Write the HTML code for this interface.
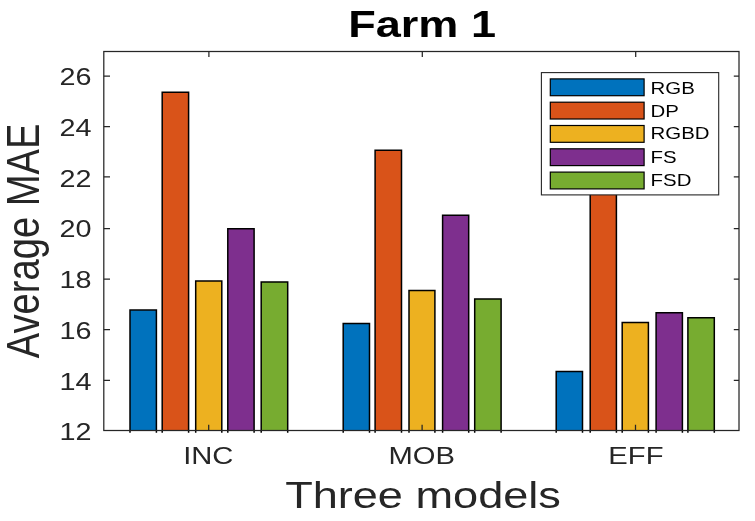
<!DOCTYPE html><html><head><meta charset="utf-8"><title>Farm 1</title>
<style>html,body{margin:0;padding:0;background:#fff}svg{display:block}text{font-family:"Liberation Sans",Arial,Helvetica,sans-serif}</style></head><body>
<svg width="755" height="521" viewBox="0 0 755 521">
<rect width="755" height="521" fill="#fff"/>
<rect x="130.00" y="310.10" width="26.40" height="120.40" fill="#0072BD"/>
<path d="M130.00 432.70V310.10H156.40V432.70" fill="none" stroke="#000" stroke-width="1.5"/>
<rect x="162.20" y="92.20" width="26.40" height="338.30" fill="#D95319"/>
<path d="M162.20 432.70V92.20H188.60V432.70" fill="none" stroke="#000" stroke-width="1.5"/>
<rect x="195.70" y="280.90" width="26.10" height="149.60" fill="#EDB120"/>
<path d="M195.70 432.70V280.90H221.80V432.70" fill="none" stroke="#000" stroke-width="1.5"/>
<rect x="227.80" y="228.70" width="26.30" height="201.80" fill="#7E2F8E"/>
<path d="M227.80 432.70V228.70H254.10V432.70" fill="none" stroke="#000" stroke-width="1.5"/>
<rect x="261.20" y="281.90" width="26.50" height="148.60" fill="#77AC30"/>
<path d="M261.20 432.70V281.90H287.70V432.70" fill="none" stroke="#000" stroke-width="1.5"/>
<rect x="343.20" y="323.60" width="26.30" height="106.90" fill="#0072BD"/>
<path d="M343.20 432.70V323.60H369.50V432.70" fill="none" stroke="#000" stroke-width="1.5"/>
<rect x="375.10" y="150.20" width="26.40" height="280.30" fill="#D95319"/>
<path d="M375.10 432.70V150.20H401.50V432.70" fill="none" stroke="#000" stroke-width="1.5"/>
<rect x="409.00" y="290.60" width="25.90" height="139.90" fill="#EDB120"/>
<path d="M409.00 432.70V290.60H434.90V432.70" fill="none" stroke="#000" stroke-width="1.5"/>
<rect x="442.60" y="215.30" width="26.10" height="215.20" fill="#7E2F8E"/>
<path d="M442.60 432.70V215.30H468.70V432.70" fill="none" stroke="#000" stroke-width="1.5"/>
<rect x="474.70" y="298.90" width="26.40" height="131.60" fill="#77AC30"/>
<path d="M474.70 432.70V298.90H501.10V432.70" fill="none" stroke="#000" stroke-width="1.5"/>
<rect x="556.20" y="371.60" width="26.30" height="58.90" fill="#0072BD"/>
<path d="M556.20 432.70V371.60H582.50V432.70" fill="none" stroke="#000" stroke-width="1.5"/>
<rect x="590.20" y="150.00" width="26.20" height="280.50" fill="#D95319"/>
<path d="M590.20 432.70V150.00H616.40V432.70" fill="none" stroke="#000" stroke-width="1.5"/>
<rect x="622.20" y="322.40" width="26.20" height="108.10" fill="#EDB120"/>
<path d="M622.20 432.70V322.40H648.40V432.70" fill="none" stroke="#000" stroke-width="1.5"/>
<rect x="656.10" y="312.70" width="26.30" height="117.80" fill="#7E2F8E"/>
<path d="M656.10 432.70V312.70H682.40V432.70" fill="none" stroke="#000" stroke-width="1.5"/>
<rect x="687.90" y="317.70" width="26.40" height="112.80" fill="#77AC30"/>
<path d="M687.90 432.70V317.70H714.30V432.70" fill="none" stroke="#000" stroke-width="1.5"/>
<rect x="103.8" y="51.5" width="635.20" height="379.00" fill="none" stroke="#262626" stroke-width="1.25"/>
<path d="M103.8 380.30h6.2M739.0 380.30h-5.2M103.8 329.50h6.2M739.0 329.50h-5.2M103.8 279.10h6.2M739.0 279.10h-5.2M103.8 228.70h6.2M739.0 228.70h-5.2M103.8 176.80h6.2M739.0 176.80h-5.2M103.8 126.50h6.2M739.0 126.50h-5.2M103.8 76.10h6.2M739.0 76.10h-5.2M208.7 430.5v-5.8M208.89999999999998 51.5v5.4M422.1 430.5v-5.8M422.3 51.5v5.4M635.5 430.5v-5.8M635.7 51.5v5.4" fill="none" stroke="#262626" stroke-width="1.25"/>
<text transform="translate(91.6 440.24) scale(1.252 1)" font-size="23.0" text-anchor="end" fill="#262626">12</text>
<text transform="translate(91.6 389.52) scale(1.252 1)" font-size="23.0" text-anchor="end" fill="#262626">14</text>
<text transform="translate(91.6 338.80) scale(1.252 1)" font-size="23.0" text-anchor="end" fill="#262626">16</text>
<text transform="translate(91.6 288.08) scale(1.252 1)" font-size="23.0" text-anchor="end" fill="#262626">18</text>
<text transform="translate(91.6 237.36) scale(1.252 1)" font-size="23.0" text-anchor="end" fill="#262626">20</text>
<text transform="translate(91.6 186.64) scale(1.252 1)" font-size="23.0" text-anchor="end" fill="#262626">22</text>
<text transform="translate(91.6 135.92) scale(1.252 1)" font-size="23.0" text-anchor="end" fill="#262626">24</text>
<text transform="translate(91.6 85.20) scale(1.252 1)" font-size="23.0" text-anchor="end" fill="#262626">26</text>
<text transform="translate(208.29999999999998 464) scale(1.232 1)" font-size="23.7" text-anchor="middle" fill="#262626">INC</text>
<text transform="translate(421.70000000000005 464) scale(1.232 1)" font-size="23.7" text-anchor="middle" fill="#262626">MOB</text>
<text transform="translate(635.9 464) scale(1.232 1)" font-size="23.7" text-anchor="middle" fill="#262626">EFF</text>
<text transform="translate(423 507.8) scale(1.2 1)" font-size="37.6" text-anchor="middle" fill="#262626">Three models</text>
<text transform="translate(39.3 240.95) scale(1.205 1) rotate(-90)" font-size="38.14" text-anchor="middle" fill="#262626">Average MAE</text>
<text transform="translate(422.1 36.9) scale(1.208 1)" font-size="37.3" font-weight="bold" text-anchor="middle" fill="#000">Farm 1</text>
<rect x="541.4" y="72.6" width="177.30" height="122.30" fill="#fff" stroke="#262626" stroke-width="1.1"/>
<rect x="550.3" y="78.90" width="93.8" height="16.8" fill="#0072BD" stroke="#000" stroke-width="1.2"/>
<text transform="translate(650.6 94) scale(1.292 1)" font-size="15.8" fill="#000">RGB</text>
<rect x="550.3" y="102.20" width="93.8" height="16.8" fill="#D95319" stroke="#000" stroke-width="1.2"/>
<text transform="translate(650.6 117) scale(1.292 1)" font-size="15.8" fill="#000">DP</text>
<rect x="550.3" y="125.50" width="93.8" height="16.8" fill="#EDB120" stroke="#000" stroke-width="1.2"/>
<text transform="translate(650.6 139) scale(1.292 1)" font-size="15.8" fill="#000">RGBD</text>
<rect x="550.3" y="148.80" width="93.8" height="16.8" fill="#7E2F8E" stroke="#000" stroke-width="1.2"/>
<text transform="translate(650.6 163) scale(1.292 1)" font-size="15.8" fill="#000">FS</text>
<rect x="550.3" y="172.10" width="93.8" height="16.8" fill="#77AC30" stroke="#000" stroke-width="1.2"/>
<text transform="translate(650.6 186) scale(1.292 1)" font-size="15.8" fill="#000">FSD</text>
</svg></body></html>
